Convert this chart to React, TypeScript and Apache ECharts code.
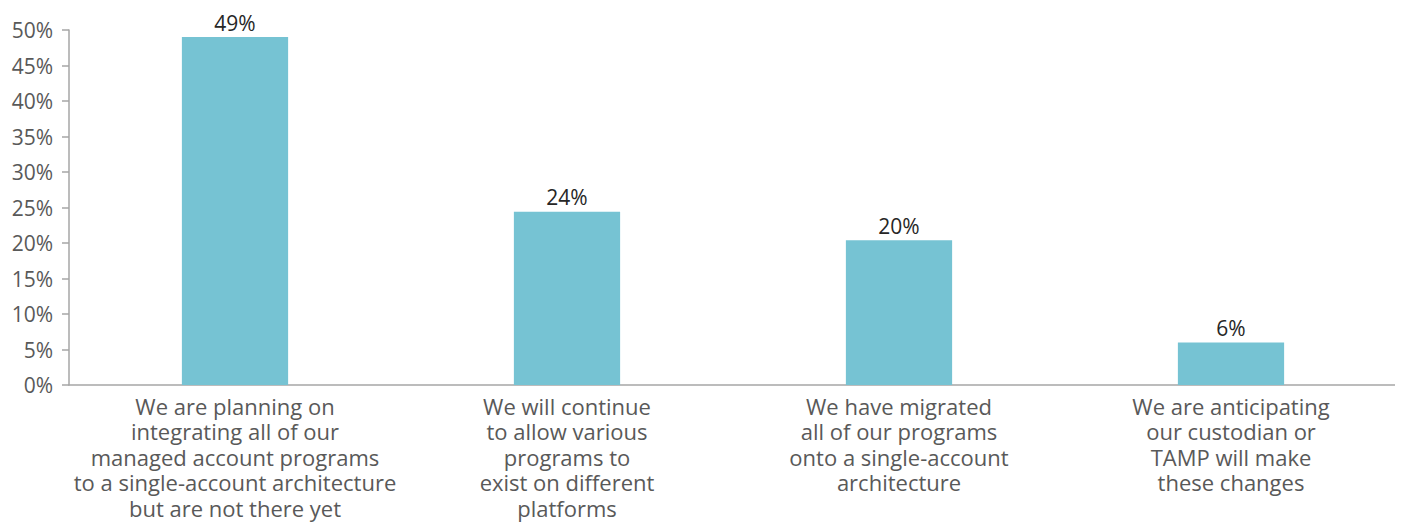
import React, { useEffect, useRef } from "react";
import * as echarts from "echarts";

const categories = [
  "We are planning on\nintegrating all of our\nmanaged account programs\nto a single-account architecture\nbut are not there yet",
  "We will continue\nto allow various\nprograms to\nexist on different\nplatforms",
  "We have migrated\nall of our programs\nonto a single-account\narchitecture",
  "We are anticipating\nour custodian or\nTAMP will make\nthese changes",
];
const values = [49, 24.4, 20.4, 6];
const yTicks = { min: 0, max: 50, interval: 5 };

export default function App() {
  const ref = useRef<HTMLDivElement>(null);
  useEffect(() => {
    if (!ref.current) return;
    const chart = echarts.init(ref.current, null, { renderer: "svg" });
    const font = "'Open Sans', 'Noto Sans', sans-serif";
    chart.setOption({
      animation: false,
      grid: {
        left: 61,
        right: 0,
        top: 22,
        bottom: 138,
        containLabel: false,
        outerBoundsMode: "none",
      },
      xAxis: {
        type: "category",
        data: categories,
        axisLine: { show: true, lineStyle: { color: "#a6a6a6", width: 1.5 } },
        axisTick: { show: false },
        axisLabel: {
          interval: 0,
          color: "#595959",
          fontFamily: font,
          fontSize: 22,
          lineHeight: 25.5,
          margin: 8,
        },
      },
      yAxis: {
        type: "value",
        min: yTicks.min,
        max: yTicks.max,
        interval: yTicks.interval,
        splitLine: { show: false },
        axisLine: { show: true, lineStyle: { color: "#a6a6a6", width: 1.5 } },
        axisTick: { show: true, length: 7, lineStyle: { color: "#a6a6a6", width: 1.5 } },
        axisLabel: {
          color: "#595959",
          fontFamily: font,
          fontSize: 21,
          margin: 16,
          formatter: (v: number) => `${v}%`,
        },
      },
      series: [
        {
          type: "bar",
          data: values,
          barWidth: "32%",
          itemStyle: { color: "#76c3d3" },
          label: {
            show: true,
            position: "top",
            distance: 4,
            color: "#262626",
            fontFamily: font,
            fontSize: 21,
            formatter: (p: any) => `${Math.round(p.value)}%`,
          },
        },
      ],
    });
    return () => chart.dispose();
  }, []);
  return <div ref={ref} style={{ width: 1389, height: 515 }} />;
}
